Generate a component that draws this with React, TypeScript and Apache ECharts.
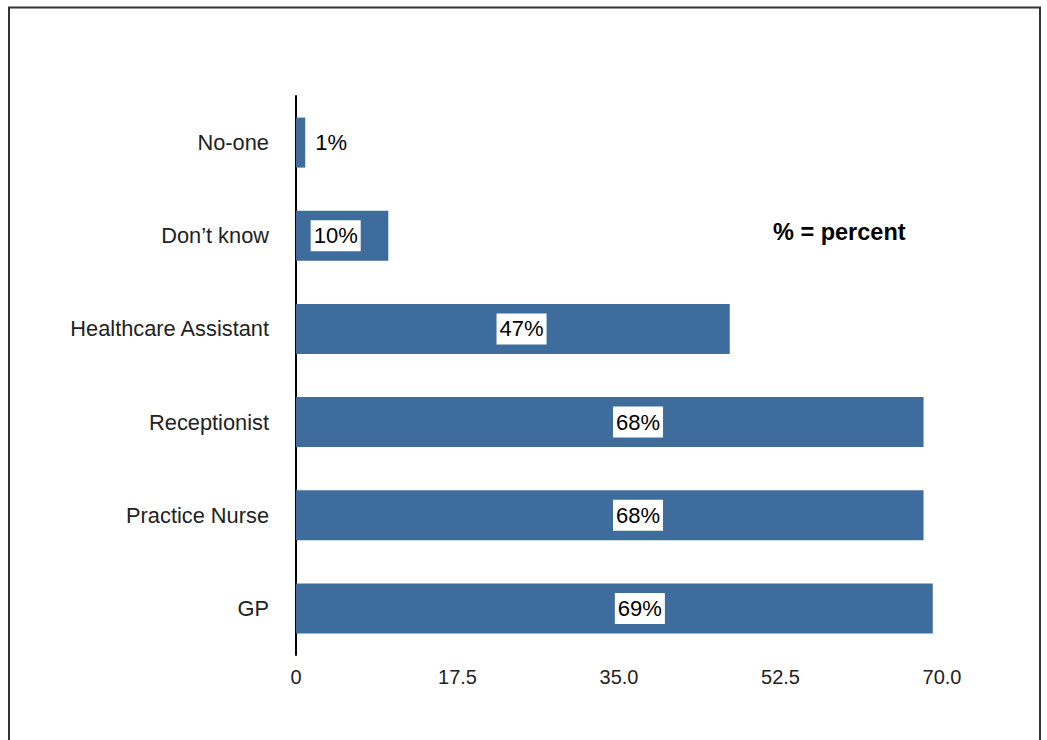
import React, { useEffect, useRef } from "react";
import * as echarts from "echarts";

const categories = ["No-one", "Don\u2019t know", "Healthcare Assistant", "Receptionist", "Practice Nurse", "GP"];
const values = [1, 10, 47, 68, 68, 69];
const xTicks = [0, 17.5, 35, 52.5, 70];
const noteText = "% = percent";

// label anchor along each bar (fraction of bar length); null = outside right
const labelAnchor: (number | null)[] = [null, 0.43, 0.52, 0.545, 0.545, 0.54];

const BAR = "#3e6c9c";
const FONT = "'Liberation Sans', Arial, Helvetica, sans-serif";

export default function App() {
  const ref = useRef<HTMLDivElement>(null);
  useEffect(() => {
    if (!ref.current) return;
    const chart = echarts.init(ref.current, null, { renderer: "svg" });
    const data = values.map((v, i) => {
      const a = labelAnchor[i];
      if (a === null) {
        return {
          value: v,
          label: {
            position: "right",
            distance: 10,
            backgroundColor: "transparent",
            padding: 0,
          },
        };
      }
      return {
        value: v,
        label: { position: [`${a * 100}%`, "50%"], align: "center", verticalAlign: "middle" },
      };
    });
    chart.setOption({
      animation: false,
      textStyle: { fontFamily: FONT },
      grid: { left: 296, right: 105, top: 96, bottom: 85, containLabel: false },
      xAxis: {
        type: "value",
        min: 0,
        max: xTicks[xTicks.length - 1],
        interval: xTicks[1] - xTicks[0],
        axisLine: { show: false },
        axisTick: { show: false },
        splitLine: { show: false },
        axisLabel: {
          color: "#222",
          fontSize: 20,
          fontFamily: "'Liberation Sans Narrow', 'Liberation Sans', Arial, sans-serif",
          margin: 12,
          formatter: (v: number) => (v === 0 ? "0" : v.toFixed(1)),
        },
      },
      yAxis: {
        type: "category",
        inverse: true,
        data: categories,
        axisLine: { show: true, lineStyle: { color: "#000", width: 2 } },
        axisTick: { show: false },
        axisLabel: { color: "#222", fontSize: 21.8, margin: 27, fontFamily: FONT },
      },
      series: [
        {
          type: "bar",
          data,
          barWidth: 50,
          itemStyle: { color: BAR },
          label: {
            show: true,
            formatter: (p: any) => `${p.value}%`,
            color: "#000",
            fontSize: 22,
            fontFamily: FONT,
            backgroundColor: "#fff",
            padding: [3, 3],
            lineHeight: 25,
          },
        },
      ],
      graphic: [
        {
          type: "rect",
          shape: { x: 9, y: 7.5, width: 1031, height: 780 },
          style: { fill: "none", stroke: "#333", lineWidth: 2 },
          silent: true,
        },
        {
          type: "text",
          left: 773,
          top: 220,
          style: { text: noteText, fontSize: 23.5, fontWeight: "bold", fill: "#000", fontFamily: FONT },
        },
      ],
    });
    return () => chart.dispose();
  }, []);
  return (
    <div
      ref={ref}
      style={{ position: "fixed", left: 0, top: 0, width: 1047, height: 740, background: "#fff" }}
    />
  );
}
